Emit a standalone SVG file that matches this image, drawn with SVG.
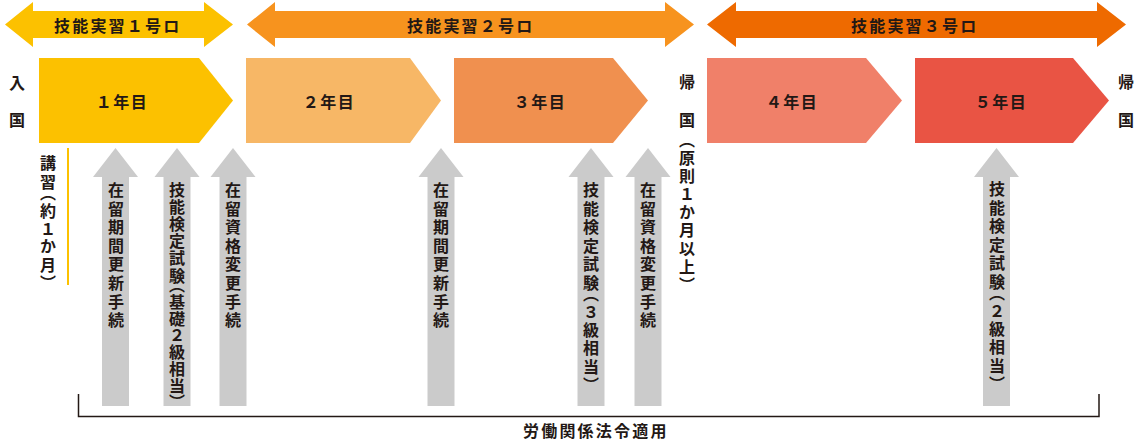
<svg xmlns="http://www.w3.org/2000/svg" width="1140" height="440" viewBox="0 0 1140 440">
<style>
.t{font-family:"Noto Sans CJK JP","Noto Sans",sans-serif;font-weight:bold;fill:#231815;}
.h{font-size:16px;letter-spacing:2.2px;dominant-baseline:central;}
.y{font-size:16px;letter-spacing:1.5px;text-anchor:middle;dominant-baseline:central;}
.v{font-size:16px;letter-spacing:2.6px;writing-mode:vertical-rl;font-feature-settings:"vpal";}
.g{fill:#CBCBCB;}
.br{fill:none;stroke:#231815;stroke-width:1.5;}
</style>
<defs>
<path id="up" d="M0,0 L22.5,29 L13.5,29 L13.5,258 L-13.5,258 L-13.5,29 L-22.5,29 Z"/>
</defs>
<rect width="1140" height="440" fill="#FFFFFF"/>

<g id="banner1">
<polygon points="5,24.5 33,2 33,11 204,11 204,2 233,24.5 204,47 204,38 33,38 33,47" fill="#FCC100"/>
<text class="t h" x="54" y="25">技能実習１号ロ</text>
</g>
<g id="banner2">
<polygon points="247,24.5 275,2 275,11 665,11 665,2 694,24.5 665,47 665,38 275,38 275,47" fill="#F7931E"/>
<text class="t h" x="407" y="25">技能実習２号ロ</text>
</g>
<g id="banner3">
<polygon points="707,24.5 736,2 736,11 1097,11 1097,2 1126,24.5 1097,47 1097,38 736,38 736,47" fill="#EE6A00"/>
<text class="t h" x="851" y="25">技能実習３号ロ</text>
</g>

<g id="entry">
<text class="t v" x="17" y="75" style="letter-spacing:21px">入国</text>
</g>
<g id="year1">
<polygon points="39,58 199,58 233,100.5 199,143 39,143" fill="#FCC100"/>
<text class="t y" x="122" y="101">１年目</text>
</g>
<g id="year2">
<polygon points="246,58 410,58 441,100.5 410,143 246,143" fill="#F7B766"/>
<text class="t y" x="329" y="101">２年目</text>
</g>
<g id="year3">
<polygon points="454,58 613,58 648,100.5 613,143 454,143" fill="#F0904F"/>
<text class="t y" x="540" y="101">３年目</text>
</g>
<g id="return1">
<text class="t v" x="687" y="74" style="letter-spacing:22px">帰国</text>
<text class="t v" x="687" y="139">（原則１か月以上）</text>
</g>
<g id="year4">
<polygon points="707,58 866,58 902,100.5 866,143 707,143" fill="#F08069"/>
<text class="t y" x="792" y="101">４年目</text>
</g>
<g id="year5">
<polygon points="915,58 1073,58 1109,100.5 1073,143 915,143" fill="#E95444"/>
<text class="t y" x="1001" y="101">５年目</text>
</g>
<g id="return2">
<text class="t v" x="1126" y="74" style="letter-spacing:22px">帰国</text>
</g>

<g id="training">
<line x1="68" y1="148" x2="68" y2="285" stroke="#FCC100" stroke-width="2"/>
<text class="t v" x="48" y="155">講習（約１か月）</text>
</g>

<g id="step1">
<use href="#up" class="g" transform="translate(115.5,148)"/>
<text class="t v" x="116" y="182">在留期間更新手続</text>
</g>
<g id="step2">
<use href="#up" class="g" transform="translate(177,148)"/>
<text class="t v" x="177" y="182" style="letter-spacing:1.1px">技能検定試験（基礎２級相当）</text>
</g>
<g id="step3">
<use href="#up" class="g" transform="translate(233,148)"/>
<text class="t v" x="233" y="182">在留資格変更手続</text>
</g>
<g id="step4">
<use href="#up" class="g" transform="translate(441,148)"/>
<text class="t v" x="441" y="182">在留期間更新手続</text>
</g>
<g id="step5">
<use href="#up" class="g" transform="translate(591,148)"/>
<text class="t v" x="591" y="182">技能検定試験（３級相当）</text>
</g>
<g id="step6">
<use href="#up" class="g" transform="translate(648,148)"/>
<text class="t v" x="648" y="182">在留資格変更手続</text>
</g>
<g id="step7">
<use href="#up" class="g" transform="translate(996.5,148)"/>
<text class="t v" x="997" y="181">技能検定試験（２級相当）</text>
</g>

<g id="connectors">
<path class="br" d="M78.5,394 V416.5 H1099 V394"/>
</g>
<g id="law">
<text class="t h" x="523" y="430">労働関係法令適用</text>
</g>
</svg>
